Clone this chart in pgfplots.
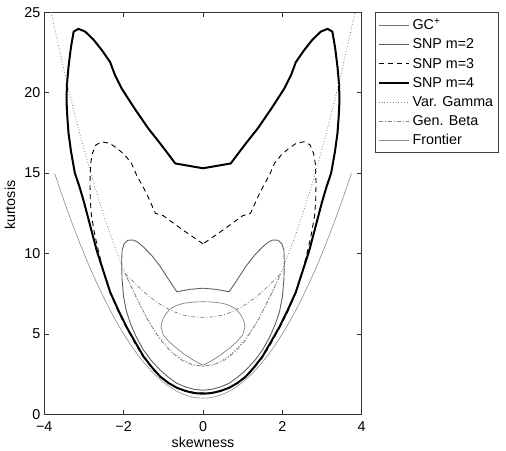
\documentclass[border=0pt]{standalone}
\usepackage{fontspec}
\setmainfont{Liberation Sans}
\usepackage{pgfplots}
\pgfplotsset{compat=1.18}
\begin{document}
\begin{tikzpicture}
\path[use as bounding box] (0pt,0pt) rectangle (506pt,450pt);
\begin{axis}[
  at={(44.3pt,35.7pt)}, anchor=south west,
  scale only axis, width=317.4pt, height=402pt,
  xmin=-4, xmax=4, ymin=0, ymax=25,
  xtick={-4,-2,0,2,4}, xticklabels={−4,−2,0,2,4},
  ytick={0,5,10,15,20,25},
  tick align=inside, major tick length=4.5pt,
  font=\fontsize{14.3}{16}\selectfont,
  /pgf/number format/assume math mode=true,
  xticklabel style={yshift=-4pt},
  yticklabel style={xshift=-0.5pt},
  axis line style={black!80, line width=0.7pt},
  every tick/.style={black!80, line width=0.6pt},
  xlabel={skewness}, ylabel={kurtosis},
  xlabel style={at={(axis description cs:0.5,0)}, yshift=-28pt, anchor=center},
  ylabel style={at={(axis description cs:-0.108,0.52)}, anchor=center},
  legend cell align=left,
  legend style={at={(1,1)}, anchor=north west, xshift=13.3pt,
    draw=black!75, line width=0.6pt, font=\fontsize{14.3}{16}\selectfont,
    inner sep=2.5pt, row sep=0pt, nodes={inner xsep=2.8pt, inner ysep=3.8pt}},
  legend image code/.code={\draw[#1] (0pt,0pt) -- (30pt,0pt);},
]
% GC+
\addplot[black!55, line width=0.6pt] coordinates {
(0,3.05) (-0.25,3.38) (-0.45,3.7) (-0.66,4.1) (-0.85,4.5) (-1.0,4.93) (-1.06,5.45) (-1.03,5.8) (-0.95,6.2) (-0.83,6.55) (-0.66,6.77) (-0.5,6.9) (-0.25,6.98) (0,7.0)
(0.25,6.98) (0.5,6.9) (0.66,6.77) (0.83,6.55) (0.95,6.2) (1.03,5.8) (1.06,5.45) (1.0,4.93) (0.85,4.5) (0.66,4.1) (0.45,3.7) (0.25,3.38) (0,3.05)};
\addlegendentry{GC\textsuperscript{+}}
% SNP m=2
\addplot[black!62, line width=0.9pt] coordinates {
(-0.66,7.62) (-0.87,8.4) (-1.08,9.2) (-1.3,9.9) (-1.5,10.4) (-1.64,10.7) (-1.76,10.84) (-1.9,10.82) (-1.99,10.6) (-2.04,10.2) (-2.05,9.4) (-2.04,8.4) (-2.0,7.3) (-1.93,6.4) (-1.83,5.65) (-1.68,4.8) (-1.5,4.0) (-1.3,3.33) (-1.08,2.75) (-0.87,2.3) (-0.66,1.93) (-0.44,1.7) (-0.22,1.55) (0,1.5)
(0.22,1.55) (0.44,1.7) (0.66,1.93) (0.87,2.3) (1.08,2.75) (1.3,3.33) (1.5,4.0) (1.68,4.8) (1.83,5.65) (1.93,6.4) (2.0,7.3) (2.04,8.4) (2.05,9.4) (2.04,10.2) (1.99,10.6) (1.9,10.82) (1.76,10.84) (1.64,10.7) (1.5,10.4) (1.3,9.9) (1.08,9.2) (0.87,8.4) (0.66,7.62)
(0.33,7.77) (0,7.84) (-0.33,7.77) (-0.66,7.62)};
\addlegendentry{SNP m=2}
% SNP m=3
\addplot[black, line width=0.9pt, dash pattern=on 5pt off 4pt] coordinates {
(0,10.6) (-0.5,11.45) (-1.0,12.35) (-1.2,12.5) (-1.38,13.5) (-1.5,14.1) (-1.67,14.85) (-1.8,15.6) (-1.98,16.15) (-2.17,16.55) (-2.35,16.85) (-2.55,16.95) (-2.7,16.75) (-2.79,16.2) (-2.83,15.6) (-2.85,14.4) (-2.84,13.3) (-2.81,12.3) (-2.73,11.2) (-2.64,10.2) (-2.5,8.8) (-2.34,7.55) (-2.12,6.3) (-1.9,5.25) (-1.7,4.35) (-1.5,3.55) (-1.28,2.85) (-1.08,2.32) (-0.87,1.93) (-0.66,1.65) (-0.44,1.46) (-0.22,1.36) (0,1.33)
(0.22,1.36) (0.44,1.46) (0.66,1.65) (0.87,1.93) (1.08,2.32) (1.28,2.85) (1.5,3.55) (1.7,4.35) (1.9,5.25) (2.12,6.3) (2.34,7.55) (2.5,8.8) (2.64,10.2) (2.73,11.2) (2.81,12.3) (2.84,13.3) (2.85,14.4) (2.83,15.6) (2.79,16.2) (2.7,16.75) (2.55,16.95) (2.35,16.85) (2.17,16.55) (1.98,16.15) (1.8,15.6) (1.67,14.85) (1.5,14.1) (1.38,13.5) (1.2,12.5) (1.0,12.35) (0.5,11.45) (0,10.6)};
\addlegendentry{SNP m=3}
% SNP m=4
\addplot[black, line width=2pt, line join=round] coordinates {
(0,15.3) (-0.7,15.6) (-1.05,16.75) (-1.38,17.78) (-1.72,19.0) (-2.05,20.26) (-2.22,21.1) (-2.34,21.9) (-2.55,22.65) (-2.76,23.3) (-2.97,23.8) (-3.14,23.97) (-3.26,23.8)
(-3.33,22.8) (-3.39,21.6) (-3.43,20.5) (-3.44,19.5) (-3.42,18.5) (-3.39,17.5) (-3.33,16.4) (-3.23,15.0) (-3.12,14.2) (-3.0,13.2) (-2.84,11.7) (-2.68,10.2) (-2.51,8.9) (-2.34,7.6) (-2.13,6.45) (-1.92,5.4) (-1.7,4.45) (-1.5,3.6) (-1.28,2.9) (-1.08,2.35) (-0.87,1.95) (-0.66,1.65) (-0.44,1.45) (-0.22,1.32) (0,1.28)
(0.22,1.32) (0.44,1.45) (0.66,1.65) (0.87,1.95) (1.08,2.35) (1.28,2.9) (1.5,3.6) (1.7,4.45) (1.92,5.4) (2.13,6.45) (2.34,7.6) (2.51,8.9) (2.68,10.2) (2.84,11.7) (3.0,13.2) (3.12,14.2) (3.23,15.0) (3.33,16.4) (3.39,17.5) (3.42,18.5) (3.44,19.5) (3.43,20.5) (3.39,21.6) (3.33,22.8)
(3.26,23.8) (3.14,23.97) (2.97,23.8) (2.76,23.3) (2.55,22.65) (2.34,21.9) (2.22,21.1) (2.05,20.26) (1.72,19.0) (1.38,17.78) (1.05,16.75) (0.7,15.6) (0,15.3)};
\addlegendentry{SNP m=4}
% Var. Gamma
\addplot[black!50, line width=0.8pt, dotted, smooth] coordinates {
(-3.83,25.0) (-3.5,21.375) (-3.25,18.84) (-3,16.5) (-2.75,14.34) (-2.5,12.375) (-2.25,10.59) (-2,9) (-1.75,7.59) (-1.5,6.375) (-1.25,5.34) (-1,4.5) (-0.75,3.84) (-0.5,3.375) (-0.25,3.094) (0,3)
(0.25,3.094) (0.5,3.375) (0.75,3.84) (1,4.5) (1.25,5.34) (1.5,6.375) (1.75,7.59) (2,9) (2.25,10.59) (2.5,12.375) (2.75,14.34) (3,16.5) (3.25,18.84) (3.5,21.375) (3.83,25.0)};
\addlegendentry{Var. Gamma}
% Gen. Beta
\addplot[black!50, line width=0.7pt, dash pattern=on 4pt off 2pt on 1pt off 2pt] coordinates {
(-1.97,8.77) (-1.76,8.25) (-1.55,7.75) (-1.34,7.3) (-1.13,6.92) (-0.92,6.6) (-0.7,6.35) (-0.5,6.17) (-0.25,6.06) (0,6.03) (0.25,6.06) (0.5,6.17) (0.7,6.35) (0.92,6.6) (1.13,6.92) (1.34,7.3) (1.55,7.75) (1.76,8.25) (1.97,8.77)
(1.7,7.4) (1.4,5.9) (1.1,4.7) (0.8,3.85) (0.5,3.3) (0.25,3.07) (0,3.0) (-0.25,3.07) (-0.5,3.3) (-0.8,3.85) (-1.1,4.7) (-1.4,5.9) (-1.7,7.4) (-1.97,8.77)};
\addlegendentry{Gen. Beta}
% Frontier
\addplot[black!45, line width=0.6pt, smooth] coordinates {
(-3.74,14.99) (-3.5,13.25) (-3.25,11.5625) (-3,10) (-2.75,8.5625) (-2.5,7.25) (-2.25,6.0625) (-2,5) (-1.75,4.0625) (-1.5,3.25) (-1.25,2.5625) (-1,2) (-0.75,1.5625) (-0.5,1.25) (-0.25,1.0625) (0,1)
(0.25,1.0625) (0.5,1.25) (0.75,1.5625) (1,2) (1.25,2.5625) (1.5,3.25) (1.75,4.0625) (2,5) (2.25,6.0625) (2.5,7.25) (2.75,8.5625) (3,10) (3.25,11.5625) (3.5,13.25) (3.74,14.99)};
\addlegendentry{Frontier}
\end{axis}
\end{tikzpicture}
\end{document}
